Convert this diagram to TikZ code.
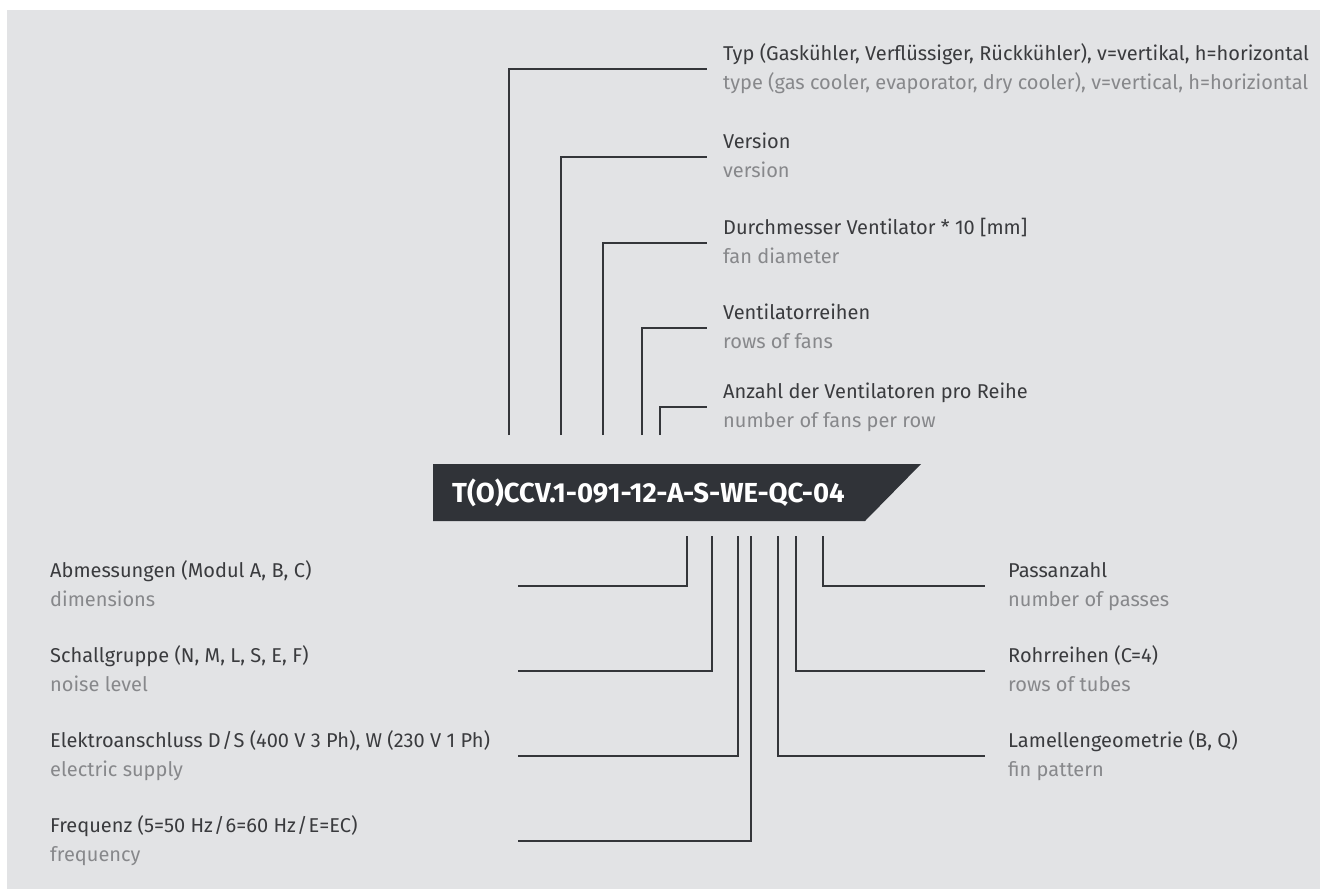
\documentclass[tikz,border=0pt]{standalone}
\usepackage{fontspec}
\setmainfont{Fira Sans}
\definecolor{bg}{RGB}{226,227,229}
\definecolor{ln}{RGB}{52,54,58}
\definecolor{dec}{RGB}{58,59,62}
\definecolor{enc}{RGB}{135,136,139}
\definecolor{boxc}{RGB}{48,51,56}
\newcommand{\slsh}{\kern1.2pt/\kern1.2pt}
\begin{document}
\begin{tikzpicture}[x=1pt,y=-1pt,
  conn/.style={draw=ln,line width=2pt},
  detxt/.style={anchor=base west,inner sep=0pt,text=dec,font=\fontsize{20}{24}\selectfont},
  entxt/.style={anchor=base west,inner sep=0pt,text=enc,font=\fontsize{20}{24}\selectfont},
  codetxt/.style={anchor=base west,inner sep=0pt,text=white,font=\fontsize{27.5}{30}\selectfont\bfseries}]
\useasboundingbox (0,0) rectangle (1320,889);
\fill[bg] (7,10) rectangle (1320,889);
% code box
\fill[boxc] (433,464) -- (921,464) -- (865,521) -- (433,521) -- cycle;
\node[codetxt] (code) at (452,502) {T(O)CCV.1-091-12-A-S-WE-QC-04};
% upper labels
\node[detxt] (u1d) at (723,60) {Typ (Gaskühler, Verflüssiger, Rückkühler), v=vertikal, h=horizontal};
\node[entxt] (u1e) at (723,89) {type (gas cooler, evaporator, dry cooler), v=vertical, h=horiziontal};
\node[detxt] (u2d) at (723,148) {Version};
\node[entxt] (u2e) at (723,177) {version};
\node[detxt] (u3d) at (723,234) {Durchmesser Ventilator * 10 [mm]};
\node[entxt] (u3e) at (723,263) {fan diameter};
\node[detxt] (u4d) at (723,319) {Ventilatorreihen};
\node[entxt] (u4e) at (723,348) {rows of fans};
\node[detxt] (u5d) at (723,398) {Anzahl der Ventilatoren pro Reihe};
\node[entxt] (u5e) at (723,427) {number of fans per row};
\coordinate (u1a) at (509,435); \coordinate (u1b) at (707,69);
\coordinate (u2a) at (561,435); \coordinate (u2b) at (707,157);
\coordinate (u3a) at (603,435); \coordinate (u3b) at (707,243);
\coordinate (u4a) at (642,435); \coordinate (u4b) at (707,328);
\coordinate (u5a) at (660,435); \coordinate (u5b) at (707,407);
\foreach \i in {1,...,5} {\draw[conn] (u\i a) |- (u\i b);}
% lower left labels
\node[detxt] (l1d) at (50,577) {Abmessungen (Modul A, B, C)};
\node[entxt] (l1e) at (50,606) {dimensions};
\node[detxt] (l2d) at (50,662) {Schallgruppe (N, M, L, S, E, F)};
\node[entxt] (l2e) at (50,691) {noise level};
\node[detxt] (l3d) at (50,747) {Elektroanschluss D\slsh S (400 V 3 Ph), W (230 V 1 Ph)};
\node[entxt] (l3e) at (50,776) {electric supply};
\node[detxt] (l4d) at (50,832) {Frequenz (5=50 Hz\slsh 6=60 Hz\slsh E=EC)};
\node[entxt] (l4e) at (50,861) {frequency};
\coordinate (l1a) at (687,536); \coordinate (l1b) at (518,586);
\coordinate (l2a) at (712,536); \coordinate (l2b) at (518,671);
\coordinate (l3a) at (738,536); \coordinate (l3b) at (518,756);
\coordinate (l4a) at (751,536); \coordinate (l4b) at (518,841);
\foreach \i in {1,...,4} {\draw[conn] (l\i a) |- (l\i b);}
% lower right labels
\node[detxt] (r1d) at (1008,577) {Passanzahl};
\node[entxt] (r1e) at (1008,606) {number of passes};
\node[detxt] (r2d) at (1008,662) {Rohrreihen (C=4)};
\node[entxt] (r2e) at (1008,691) {rows of tubes};
\node[detxt] (r3d) at (1008,747) {Lamellengeometrie (B, Q)};
\node[entxt] (r3e) at (1008,776) {fin pattern};
\coordinate (r1a) at (823,536); \coordinate (r1b) at (985,586);
\coordinate (r2a) at (796,536); \coordinate (r2b) at (985,671);
\coordinate (r3a) at (778,536); \coordinate (r3b) at (985,756);
\foreach \i in {1,...,3} {\draw[conn] (r\i a) |- (r\i b);}
\end{tikzpicture}
\end{document}
